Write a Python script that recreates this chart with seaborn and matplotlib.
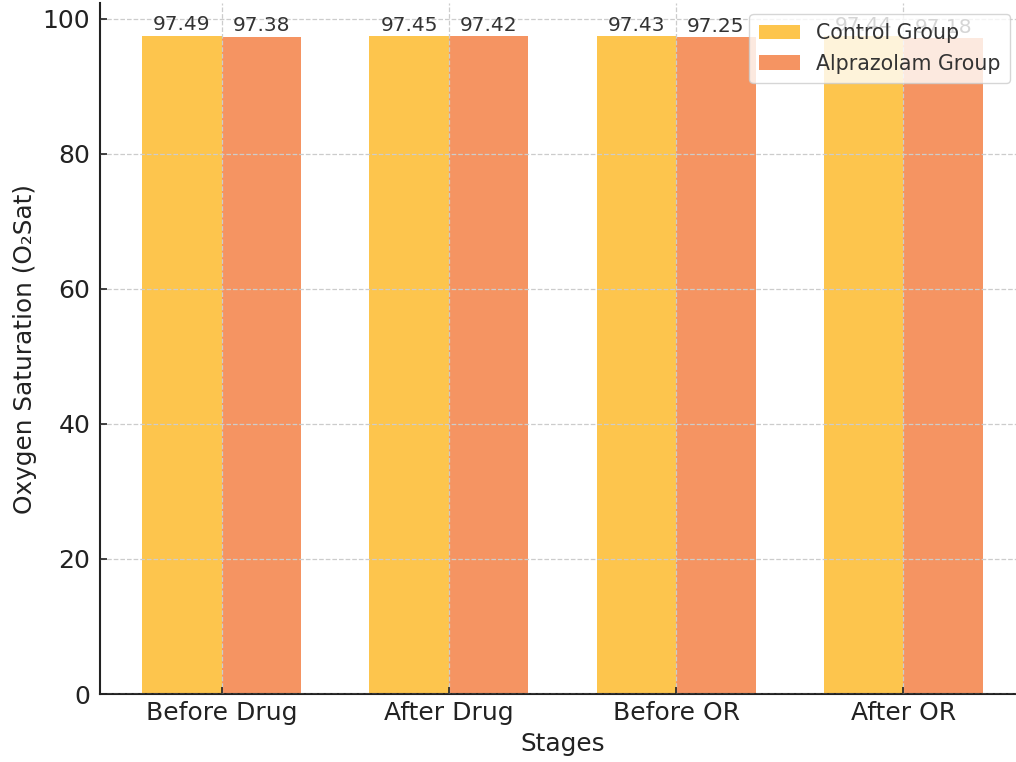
import matplotlib
matplotlib.use("Agg")
import matplotlib.pyplot as plt
import seaborn as sns
import pandas as pd

stages = ["Before Drug", "After Drug", "Before OR", "After OR"]
groups = ["Control Group", "Alprazolam Group"]
control_values = [97.49, 97.45, 97.43, 97.44]
alprazolam_values = [97.38, 97.42, 97.25, 97.18]
yticks = [0, 20, 40, 60, 80, 100]
palette = ["#FDC54D", "#F59462"]

sns.set_style("ticks")
plt.rcParams["font.family"] = ["DejaVu Sans"]

df = pd.DataFrame({
    "Stage": stages * 2,
    "Group": [groups[0]] * len(stages) + [groups[1]] * len(stages),
    "Value": control_values + alprazolam_values,
})

fig = plt.figure(figsize=(10.16, 7.62), dpi=100)
ax = fig.add_axes([100 / 1016, 68 / 762, 925 / 1016, 691 / 762])

sns.barplot(data=df, x="Stage", y="Value", hue="Group", order=stages,
            hue_order=groups, palette=palette, width=0.7, saturation=1,
            linewidth=0, errorbar=None, ax=ax)

for container in ax.containers:
    ax.bar_label(container, fmt="%.2f", fontsize=14.5, color="#333333", padding=1)

ax.set_xlim(-0.535, 3.535)
ax.set_ylim(0, 102.36)
ax.set_yticks(yticks)
ax.set_xlabel("Stages", fontsize=17.8, color="#222222", labelpad=5)
ax.set_ylabel("Oxygen Saturation (O\u2082Sat)", fontsize=17.8, color="#222222",
              labelpad=4)
ax.tick_params(axis="both", direction="in", labelsize=18, colors="#222222",
               length=5, width=1.2, pad=7)
ax.tick_params(axis="x", pad=5)

ax.set_axisbelow(False)
ax.grid(True, linestyle="--", color="#cccccc", linewidth=0.9)
for side in ("top", "right"):
    ax.spines[side].set_visible(False)
for side in ("left", "bottom"):
    ax.spines[side].set_linewidth(1.5)
    ax.spines[side].set_color("#222222")

leg = ax.legend(loc="upper right", bbox_to_anchor=(1010 / 1016, 1 - 14 / 762),
                bbox_transform=fig.transFigure, borderaxespad=0, fontsize=14.8,
                frameon=True, framealpha=0.8, edgecolor="#cccccc", fancybox=True,
                borderpad=0.45, title=None)
for t in leg.get_texts():
    t.set_color("#333333")

fig.savefig("out.png", dpi=100)
